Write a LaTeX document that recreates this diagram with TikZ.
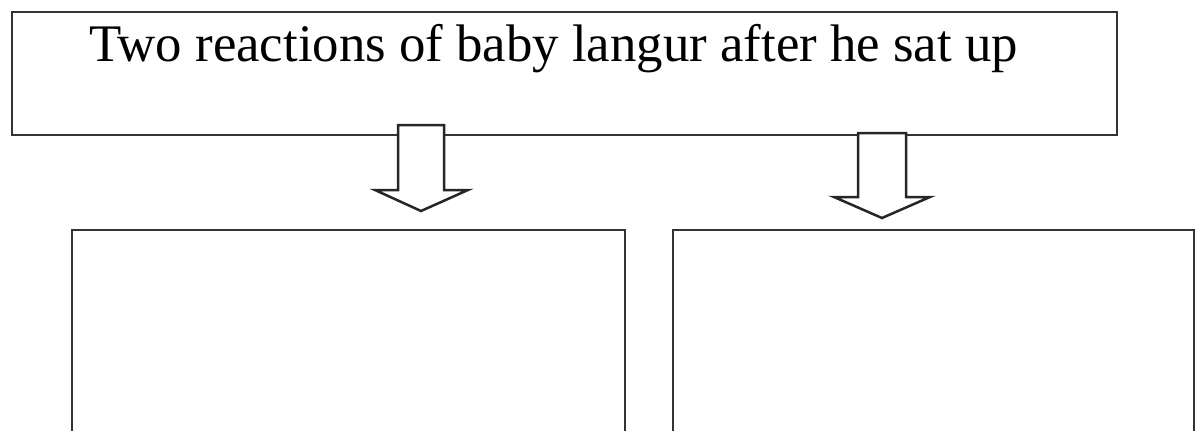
\documentclass[tikz,border=0pt]{standalone}
\usepackage{fontspec}
\setmainfont{Liberation Serif}
\begin{document}
\begin{tikzpicture}[x=1pt,y=-1pt,
  box/.style={draw=black!80,line width=2.5pt,line join=miter},
  blockarrow/.style={draw=black!85,line width=2.5pt,fill=white,line join=miter}]
\useasboundingbox (0,0) rectangle (1195,431);
\draw[box] (12,12) rectangle (1117,135);
\node[anchor=base west,inner sep=0pt,font=\fontsize{52.8}{58}\selectfont] (title) at (89,61) {Two reactions of baby langur after he sat up};
\draw[box] (72,440) -- (72,230) -- (625,230) -- (625,440);
\draw[box] (673,440) -- (673,230) -- (1194,230) -- (1194,440);
\draw[blockarrow] (398,125) -- (444,125) -- (444,190) -- (468,190) -- (421,211) -- (375,190) -- (398,190) -- cycle;
\draw[blockarrow] (858,133) -- (906,133) -- (906,197) -- (930,197) -- (882,218) -- (834,197) -- (858,197) -- cycle;
\end{tikzpicture}
\end{document}
